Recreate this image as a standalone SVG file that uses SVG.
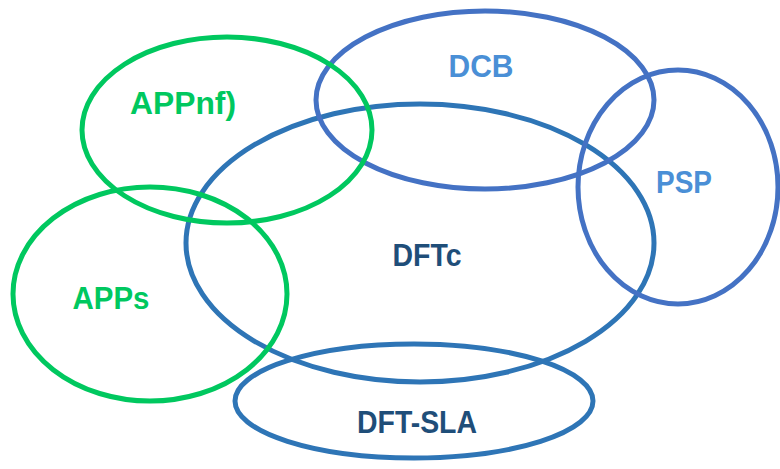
<svg xmlns="http://www.w3.org/2000/svg" width="780" height="469" viewBox="0 0 780 469">
<style>
.e{fill:none;stroke-width:5}
.g{stroke:#00C85F}
.b1{stroke:#4472C4}
.b2{stroke:#2E75B6}
text{font-family:"Liberation Sans",Arial,sans-serif;font-weight:bold;font-size:32px;text-anchor:middle}
.tg{fill:#00C85F}
.tl{fill:#4A8FD6}
.td{fill:#1F4E79}
</style>
<rect width="780" height="469" fill="#fff"/>
<g id="DFTc"><ellipse class="e b2" cx="420" cy="243" rx="234" ry="139"/><text class="td" x="427" y="266" textLength="69" lengthAdjust="spacingAndGlyphs">DFTc</text></g>
<g id="DCB"><ellipse class="e b1" cx="485" cy="100" rx="169" ry="89"/><text class="tl" x="481" y="77" textLength="65" lengthAdjust="spacingAndGlyphs">DCB</text></g>
<g id="PSP"><ellipse class="e b1" cx="678" cy="187" rx="100" ry="117"/><text class="tl" x="684" y="193" textLength="56" lengthAdjust="spacingAndGlyphs">PSP</text></g>
<g id="DFT-SLA"><ellipse class="e b2" cx="414" cy="401" rx="179" ry="57"/><text class="td" x="417" y="433" textLength="120" lengthAdjust="spacingAndGlyphs">DFT-SLA</text></g>
<g id="APPs"><ellipse class="e g" cx="150" cy="294" rx="137" ry="107"/><text class="tg" x="111" y="309" textLength="77" lengthAdjust="spacingAndGlyphs">APPs</text></g>
<g id="APPnf"><ellipse class="e g" cx="227" cy="130" rx="145" ry="93"/><text class="tg" x="183" y="114" textLength="106" lengthAdjust="spacingAndGlyphs">APPnf)</text></g>
<g id="connectors"></g>
</svg>
